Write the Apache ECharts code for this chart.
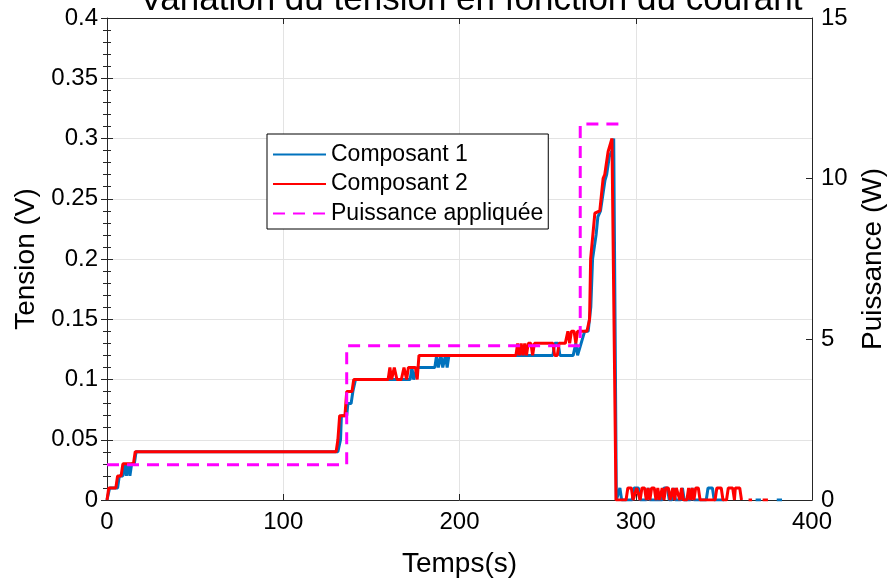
<!DOCTYPE html>
<html>
<head>
<meta charset="utf-8">
<script src="https://cdn.jsdelivr.net/npm/echarts@6/dist/echarts.min.js"></script>
<style>
html,body{margin:0;padding:0;background:#fff;}
#chart{width:891px;height:580px;}
</style>
</head>
<body>
<div id="chart"></div>
<script>
// ---- data ----
const titleText = 'Variation du tension en fonction du courant';
const xTicks = [0, 100, 200, 300, 400];

// Composant 2 (red)
const comp2T = [0,1,5,6,8,9,15,16,130,131,132,135,136,139,140,159.5,160.5,161.5,163,164.5,167,168.5,170,171,175,176,177,232,233,234,235,236,237,238,239,240.5,241.5,242.5,253,254,255.5,256.5,260,261.5,262.5,263.5,265,266,267,272.3,273.8,274.4,276.8,279.6,281.5,282.4,284.3,285.3,286.5,288.8,294.5,295.5,297.5,298.5,299.5,300.5,301.5,302.5,303.5,305,306,307,308,309,310.5,311.5,312.5,313.5,315,316,317,318.5,319.5,321,322,323,324,325,326,327,329,330,331,332,333,334,335.5,336.5,345,346,348.5,349.5,351.5,352.5,355,356,356.5,359,360,362,364,366,369,372,375];
const comp2V = [0,0.01,0.01,0.02,0.02,0.03,0.03,0.04,0.04,0.05,0.07,0.07,0.09,0.09,0.10,0.10,0.11,0.10,0.11,0.10,0.10,0.11,0.10,0.11,0.11,0.10,0.12,0.12,0.13,0.12,0.13,0.12,0.13,0.12,0.13,0.13,0.12,0.13,0.13,0.12,0.12,0.13,0.13,0.14,0.13,0.14,0.14,0.13,0.14,0.14,0.15,0.20,0.238,0.24,0.267,0.27,0.289,0.29,0.30,0,0,0.01,0.01,0,0,0.01,0.01,0,0.01,0.01,0,0.01,0,0.01,0.01,0,0.01,0,0.01,0,0.01,0.01,0,0.01,0,0.01,0.01,0,0.01,0,0,0.01,0,0.01,0,0.01,0.01,0,0,0.01,0.01,0,0,0.01,0.01,0,0.01,0.01,0,null,0,0,null,0,0];

// Composant 1 (blue)
const comp1T = [0,1.5,6,7,9,10,11,12,13,14,15.5,16.5,131,132.5,133,136,136.7,138.5,139.5,140,141,172,173,174,175,176,186,187,188,189.5,190.5,192,193,194,253,254,256,257,264.5,266,267,268,269,271,273,274.5,275.5,277.5,278.5,280,282.5,283.5,285,286.5,287.5,289,290,291,292,298,299,301.5,302.5,306,307,308,315,316,318,319,320.5,321.5,322.5,325.5,326.5,327.5,331,332,333,340,341,343.5,344.5,350,360,368,371,376,380,383];
const comp1V = [0,0.01,0.01,0.02,0.02,0.03,0.02,0.03,0.02,0.03,0.03,0.04,0.04,0.05,0.07,0.07,0.08,0.08,0.09,0.09,0.10,0.10,0.11,0.10,0.10,0.11,0.11,0.12,0.11,0.12,0.11,0.12,0.11,0.12,0.12,0.13,0.13,0.12,0.12,0.13,0.12,0.12,0.13,0.14,0.14,0.16,0.20,0.22,0.235,0.24,0.265,0.27,0.285,0.29,0.30,0,0,0.01,0,0,0.01,0.01,0,0,0.01,0,0,0.01,0.01,0,0,0.01,0,0,0.01,0,0,0.01,0,0,0.01,0.01,0,0,null,0,0,null,0,0];

// Puissance appliquée (magenta, right axis)
const powT = [0,136,136,268.5,268.5,294];
const powW = [1.1,1.1,4.8,4.8,11.7,11.7];

function pairs(t, v){ return t.map((x,i)=>[x, v[i]===null ? '-' : v[i]]); }

const axisColor = '#262626';
const gridColor = '#e3e3e3';
const fontFam = '"Liberation Sans", Arial, Helvetica, sans-serif';

const chart = echarts.init(document.getElementById('chart'), null, {renderer:'canvas'});
chart.setOption({
  animation:false,
  backgroundColor:'#ffffff',
  textStyle:{fontFamily:fontFam},
  title:{
    text:titleText, left:466, top:-22, textAlign:'center',
    textStyle:{fontSize:35, fontWeight:'normal', color:'#000', fontFamily:fontFam}
  },
  legend:{
    orient:'vertical', left:267, top:134,
    padding:[9,5,4,5], itemGap:6.5, itemWidth:53, itemHeight:14,
    backgroundColor:'#fff', borderColor:'#000', borderWidth:1,
    itemStyle:{color:'rgba(0,0,0,0)', borderColor:'rgba(0,0,0,0)', borderWidth:0, opacity:0},
    textStyle:{fontSize:23, color:'#000', fontFamily:fontFam},
    data:['Composant 1','Composant 2','Puissance appliquée']
  },
  grid:{left:107, right:79, top:18, bottom:80, containLabel:false, outerBoundsMode:'none'},
  xAxis:[{
    type:'value', min:xTicks[0], max:xTicks[xTicks.length-1], interval:100, position:'bottom',
    name:'Temps(s)', nameLocation:'middle', nameGap:50,
    nameTextStyle:{fontSize:28, color:'#000', fontFamily:fontFam},
    axisLine:{show:true, onZero:false, lineStyle:{color:axisColor, width:1}},
    axisTick:{show:true, inside:true, length:6, lineStyle:{color:axisColor}},
    axisLabel:{fontSize:24, color:'#000', margin:10, fontFamily:fontFam},
    splitLine:{show:true, lineStyle:{color:gridColor, width:1}}
  },{
    type:'value', min:0, max:400, interval:100, position:'top',
    axisLine:{show:true, onZero:false, lineStyle:{color:axisColor, width:1}},
    axisTick:{show:true, inside:true, length:6, lineStyle:{color:axisColor}},
    axisLabel:{show:false}, splitLine:{show:false}
  }],
  yAxis:[{
    type:'value', min:0, max:0.4, interval:0.05, position:'left',
    name:'Tension (V)', nameLocation:'middle', nameGap:60, nameRotate:90,
    nameTextStyle:{fontSize:28, color:'#000', fontFamily:fontFam},
    axisLine:{show:true, onZero:false, lineStyle:{color:axisColor, width:1}},
    axisTick:{show:true, inside:true, length:6, lineStyle:{color:axisColor}},
    minorTick:{show:true, splitNumber:5, length:4, lineStyle:{color:axisColor}},
    axisLabel:{fontSize:24, color:'#000', margin:9, fontFamily:fontFam},
    splitLine:{show:true, lineStyle:{color:gridColor, width:1}},
    minorSplitLine:{show:false}
  },{
    type:'value', min:0, max:15, interval:5, position:'right',
    name:'Puissance (W)', nameLocation:'middle', nameGap:47, nameRotate:90,
    nameTextStyle:{fontSize:28, color:'#000', fontFamily:fontFam},
    axisLine:{show:true, onZero:false, lineStyle:{color:axisColor, width:1}},
    axisTick:{show:true, inside:true, length:6, lineStyle:{color:axisColor}},
    axisLabel:{fontSize:24, color:'#000', margin:9, fontFamily:fontFam},
    splitLine:{show:false}
  },{
    type:'value', min:0, max:0.4, interval:0.05, position:'right',
    axisLine:{show:false},
    axisTick:{show:true, inside:true, length:6, lineStyle:{color:axisColor}},
    minorTick:{show:true, splitNumber:5, length:4, lineStyle:{color:axisColor}},
    axisLabel:{show:false}, splitLine:{show:false}
  }],
  series:[{
    name:'Composant 1', type:'line', yAxisIndex:0, xAxisIndex:0,
    data:pairs(comp1T, comp1V), showSymbol:false, symbol:'none', connectNulls:false,
    lineStyle:{color:'#0072BD', width:3}, itemStyle:{color:'#0072BD'}, z:2
  },{
    name:'Composant 2', type:'line', yAxisIndex:0, xAxisIndex:0,
    data:pairs(comp2T, comp2V), showSymbol:false, symbol:'none', connectNulls:false,
    lineStyle:{color:'#FF0000', width:3}, itemStyle:{color:'#FF0000'}, z:3
  },{
    name:'Puissance appliquée', type:'line', yAxisIndex:1, xAxisIndex:0,
    data:pairs(powT, powW), showSymbol:false, symbol:'none',
    lineStyle:{color:'#FF00FF', width:3, type:[12,8]}, itemStyle:{color:'#FF00FF'}, z:4
  }]
});
</script>
</body>
</html>
